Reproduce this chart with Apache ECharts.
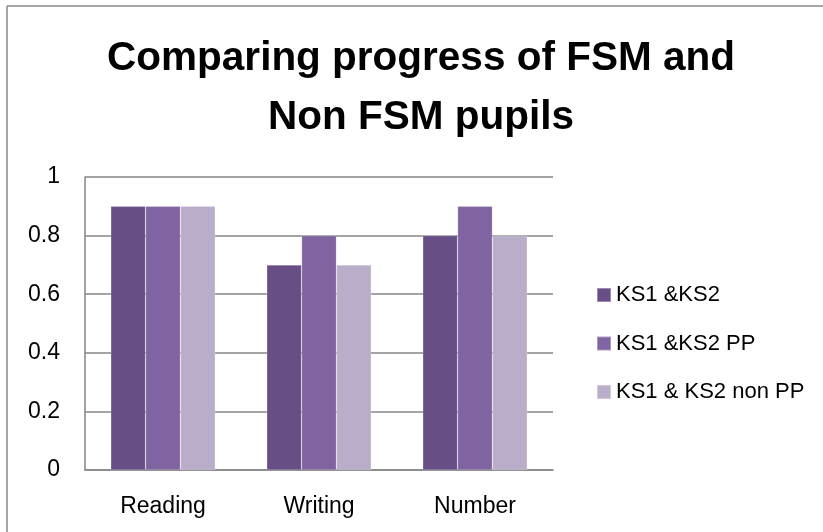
<!DOCTYPE html>
<html>
<head>
<meta charset="utf-8">
<script src="https://cdn.jsdelivr.net/npm/echarts@6/dist/echarts.min.js"></script>
<style>html,body{margin:0;padding:0;background:#fff;}#c{width:823px;height:532px;}</style>
</head>
<body>
<div id="c"></div>
<script>
const titleText = 'Comparing progress of FSM and\nNon FSM pupils';
const categories = ['Reading', 'Writing', 'Number'];
const seriesNames = ['KS1 &KS2', 'KS1 &KS2 PP', 'KS1 & KS2 non PP'];
const ks1ks2 = [0.9, 0.7, 0.8];
const ks1ks2PP = [0.9, 0.8, 0.9];
const ks1ks2NonPP = [0.9, 0.7, 0.8];
const colors = ['#674F86', '#8064A2', '#B9ADCA'];

const FONT = '"Liberation Sans", Arial, sans-serif';
const chart = echarts.init(document.getElementById('c'), null, {renderer: 'canvas'});
const values = [ks1ks2, ks1ks2PP, ks1ks2NonPP];
chart.setOption({
  animation: false,
  backgroundColor: '#fff',
  legend: {
    orient: 'vertical',
    left: 591,
    top: 279,
    itemWidth: 14,
    itemHeight: 14,
    itemGap: 26.5,
    icon: 'rect',
    textStyle: {fontFamily: FONT, fontSize: 22, color: '#000'},
    data: seriesNames
  },
  grid: {left: 85, right: 270, top: 177, bottom: 62, containLabel: false},
  xAxis: {
    type: 'category',
    data: categories,
    axisLine: {lineStyle: {color: '#868686', width: 1.5}},
    axisTick: {show: false},
    axisLabel: {fontFamily: FONT, fontSize: 23, color: '#000', margin: 25}
  },
  yAxis: {
    type: 'value',
    min: 0, max: 1, interval: 0.2,
    axisLine: {show: true, lineStyle: {color: '#868686', width: 1.5}},
    axisTick: {show: false},
    splitLine: {lineStyle: {color: '#868686', width: 1.5}},
    axisLabel: {fontFamily: FONT, fontSize: 23, color: '#000', margin: 25,
      formatter: v => String(Math.round(v * 10) / 10)}
  },
  series: seriesNames.map((n, i) => ({
    name: n,
    type: 'bar',
    data: values[i],
    barGap: '0%',
    barCategoryGap: '33%',
    itemStyle: {color: colors[i], borderColor: 'rgba(255,255,255,0.35)', borderWidth: 0.6}
  })),
  graphic: [
    {type: 'line', shape: {x1: 7, y1: 6, x2: 823, y2: 6}, style: {stroke: '#888', lineWidth: 1.5}},
    {type: 'line', shape: {x1: 7, y1: 6, x2: 7, y2: 532}, style: {stroke: '#888', lineWidth: 1.5}},
    {type: 'text', x: 421, y: 29, style: {
      text: titleText, fill: '#000', align: 'center', verticalAlign: 'top',
      font: 'bold 40.5px "Liberation Sans", Arial, sans-serif', lineHeight: 59
    }}
  ]
});
</script>
</body>
</html>
